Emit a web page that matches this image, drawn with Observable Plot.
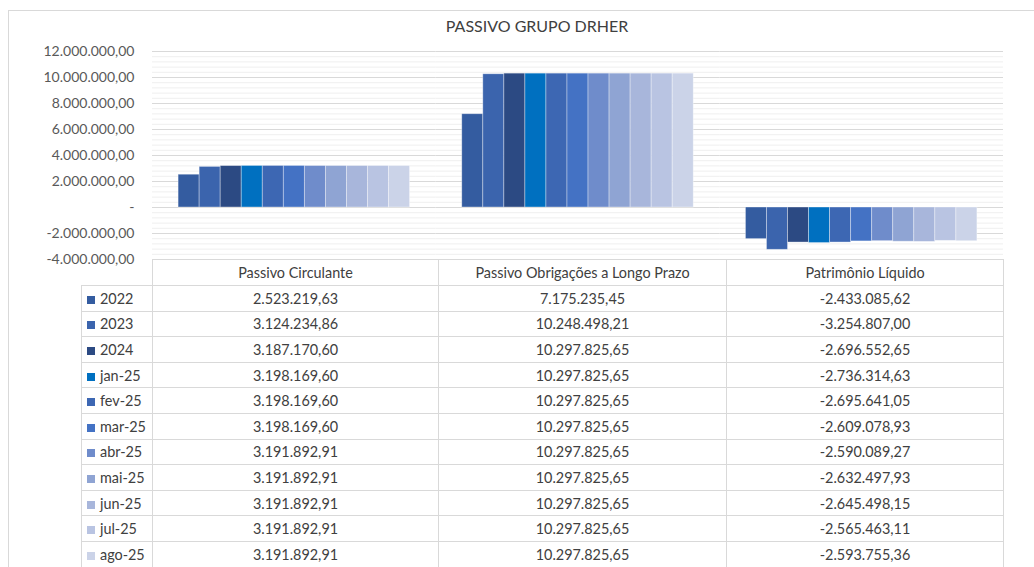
<!DOCTYPE html>
<html><head><meta charset="utf-8">
<script src="https://cdn.jsdelivr.net/npm/d3@7"></script>
<script src="https://cdn.jsdelivr.net/npm/@observablehq/plot@0.6"></script>
<style>
html,body{margin:0;padding:0;background:#fff;}
body{width:1034px;height:567px;overflow:hidden;position:relative;font-family:Lato,"Open Sans",sans-serif;}
#frame{position:absolute;left:8px;top:10px;width:1040px;height:600px;border:1px solid #d9d9d9;box-sizing:border-box;}
#title{position:absolute;left:0;top:16px;width:1074px;text-align:center;font-size:16px;color:#404040;}
#chart{position:absolute;left:0;top:40px;}
#tbl{position:absolute;left:81px;top:259px;border-collapse:collapse;table-layout:fixed;font-size:14.4px;color:#404040;}
#tbl td{border:1px solid #d9d9d9;height:24.6px;padding:0;text-align:center;white-space:nowrap;}
#tbl tr.hdr td{height:25px;}
#tbl td.leg{text-align:left;padding-left:5px;}
#tbl td.blank{border:none;border-right:1px solid #d9d9d9;}
.key{display:inline-block;width:8px;height:8px;margin-right:5px;vertical-align:0px;}
</style></head>
<body>
<div id="frame"></div>
<div id="title">PASSIVO GRUPO DRHER</div>
<div id="chart"></div>
<table id="tbl"></table>
<script>
const categories = ["Passivo Circulante", "Passivo Obrigações a Longo Prazo", "Patrimônio Líquido"];
const periods = ["2022","2023","2024","jan-25","fev-25","mar-25","abr-25","mai-25","jun-25","jul-25","ago-25"];
const passivoCirculante = [2523219.63,3124234.86,3187170.60,3198169.60,3198169.60,3198169.60,3191892.91,3191892.91,3191892.91,3191892.91,3191892.91];
const passivoLongoPrazo = [7175235.45,10248498.21,10297825.65,10297825.65,10297825.65,10297825.65,10297825.65,10297825.65,10297825.65,10297825.65,10297825.65];
const patrimonioLiquido = [-2433085.62,-3254807.00,-2696552.65,-2736314.63,-2695641.05,-2609078.93,-2590089.27,-2632497.93,-2645498.15,-2565463.11,-2593755.36];
const periodColors = ["#345ca0","#3b64ad","#2c4a83","#0070c0","#3d67b3","#4472c4","#6f8ccb","#8fa4d3","#a8b6db","#b9c4e2","#cbd3e8"];
const yTicks = [-4000000,-2000000,0,2000000,4000000,6000000,8000000,10000000,12000000];
const minorStep = 400000;

const series = [passivoCirculante, passivoLongoPrazo, patrimonioLiquido];
const data = periods.flatMap((p, i) => categories.map((c, j) => ({period: p, category: c, value: series[j][i]})));

const loc = d3.formatLocale({decimal: ",", thousands: ".", grouping: [3], currency: ["", ""], minus: "-"});
const fmt = loc.format(",.2f");
const tickFmt = v => v === 0 ? "-" : fmt(v);

const minorTicks = d3.range(-4000000, 12000001, minorStep).filter(v => !yTicks.includes(v));

const chart = Plot.plot({
  width: 1034, height: 527,
  marginTop: 11, marginBottom: 308, marginLeft: 152, marginRight: 31,
  style: {fontFamily: "Lato, 'Open Sans', sans-serif", fontSize: "14px", color: "#595959", background: "transparent"},
  fx: {domain: categories, padding: 0, axis: null, label: null, round: false},
  x: {domain: periods, paddingInner: 0, paddingOuter: 1.24, round: false, axis: null},
  y: {domain: [-4000000, 12000000], ticks: yTicks, tickFormat: tickFmt, tickSize: 0, tickPadding: 18, label: null},
  color: {domain: periods, range: periodColors},
  marks: [
    Plot.ruleY(minorTicks, {stroke: "#efefef", strokeWidth: 1}),
    Plot.ruleY(yTicks, {stroke: "#d9d9d9", strokeWidth: 1}),
    Plot.barY(data, {fx: "category", x: "period", y: "value", fill: "period", stroke: "#ffffff", strokeOpacity: 0.45, strokeWidth: 0.8})
  ]
});
document.getElementById("chart").appendChild(chart);

// data table
const tbl = document.getElementById("tbl");
const colW = [71, 286, 288, 277];
const cg = document.createElement("colgroup");
colW.forEach(w => { const c = document.createElement("col"); c.style.width = w + "px"; cg.appendChild(c); });
tbl.appendChild(cg);
const hdr = document.createElement("tr");
hdr.className = "hdr";
const b = document.createElement("td"); b.className = "blank"; hdr.appendChild(b);
categories.forEach(c => { const td = document.createElement("td"); td.textContent = c; hdr.appendChild(td); });
tbl.appendChild(hdr);
periods.forEach((p, i) => {
  const tr = document.createElement("tr");
  const td0 = document.createElement("td"); td0.className = "leg";
  const k = document.createElement("span"); k.className = "key"; k.style.background = periodColors[i];
  td0.appendChild(k); td0.appendChild(document.createTextNode(p));
  tr.appendChild(td0);
  series.forEach(s => { const td = document.createElement("td"); td.textContent = fmt(s[i]); tr.appendChild(td); });
  tbl.appendChild(tr);
});
</script>
</body></html>
